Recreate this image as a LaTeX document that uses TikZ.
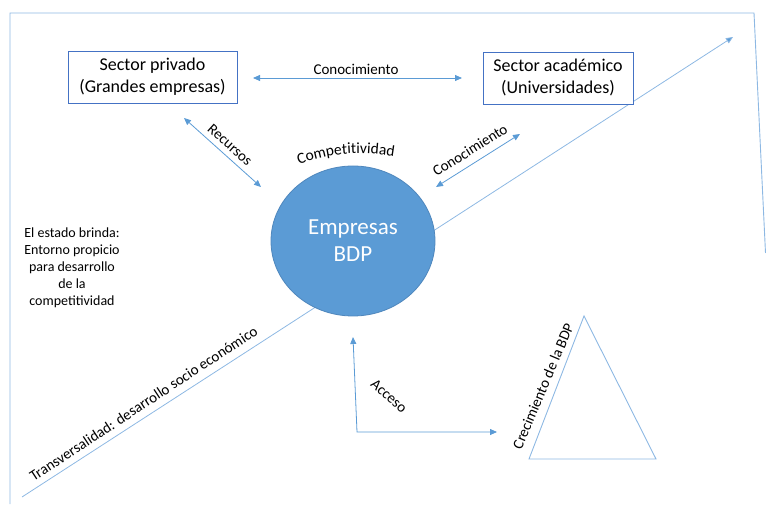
\documentclass[tikz,border=0pt]{standalone}
\usepackage{fontspec}
\setmainfont{Carlito}
\usetikzlibrary{arrows.meta,shapes.geometric,decorations.text}
\definecolor{lineblue}{HTML}{5B9BD5}
\definecolor{lightblue}{HTML}{8DB8E3}
\definecolor{boxblue}{HTML}{4472C4}
\definecolor{bdpfill}{HTML}{5B9BD5}
\definecolor{bdpedge}{HTML}{4F87BD}
\tikzset{
  arr/.style={draw=lineblue, line width=0.8pt, arrows={Triangle[length=7pt,width=6pt]-Triangle[length=7pt,width=6pt]}},
  arrone/.style={draw=lightblue, line width=0.8pt, -{Triangle[length=7pt,width=6pt,fill=lineblue]}},
  thin line/.style={draw=lightblue, line width=0.9pt},
  box/.style={draw=boxblue, line width=0.8pt, fill=white, align=center, inner sep=0pt,
    font=\fontsize{18}{22}\selectfont},
  lbl/.style={font=\fontsize{15}{18}\selectfont, inner sep=0pt},
}
\begin{document}
\begin{tikzpicture}[x=1pt,y=1pt]
\useasboundingbox (0,0) rectangle (766,504);
% frame
\coordinate (f1) at (10,0);
\coordinate (f2) at (10,491);
\coordinate (f3) at (754,491);
\coordinate (f4) at (765.5,251);
\draw[thin line] (f1) -- (f2) -- (f3) -- (f4);
% transversal line
\coordinate (t1) at (22,7);
\coordinate (t2) at (733,467);
\draw[arrone] (t1) -- (t2);
\node[lbl, rotate=33.3] (trans) at (143.5,100.5) {Transversalidad: desarrollo socio económico};
% boxes
\node[box, minimum width=169pt, minimum height=52pt] (priv) at (152.5,427) {Sector privado\\(Grandes empresas)};
\node[box, minimum width=150pt, minimum height=52pt] (acad) at (558,426) {Sector académico\\(Universidades)};
% circle
\node[ellipse, fill=bdpfill, draw=bdpedge, line width=0.8pt, minimum width=164pt, minimum height=150pt,
  inner sep=0pt, text=white, align=center, font=\fontsize{23}{27}\selectfont] (bdp) at (353,263) {Empresas\\BDP};
% top knowledge arrow
\coordinate (k1) at (253,426);
\coordinate (k2) at (462,426);
\draw[arr] (k1) -- (k2);
\node[lbl] (kl) at (356,435) {Conocimiento};
% recursos
\coordinate (r1) at (184,386);
\coordinate (r2) at (261,317);
\draw[arr] (r1) -- (r2);
\node[lbl, rotate=-42] (rl) at (230,359) {Recursos};
% diagonal knowledge
\coordinate (d1) at (436,317);
\coordinate (d2) at (520,370);
\draw[arr] (d1) -- (d2);
\node[lbl, rotate=32] (dl) at (470,354) {Conocimiento};
% competitividad arc
\coordinate (c1) at (297,339);
\coordinate (c2) at (396,347);
\path[decorate, decoration={text along path, text align=center,
  text={|\fontsize{15.5}{18}\selectfont|Competitividad}}] (c1) to[bend left=14] (c2);
% acceso
\coordinate (a0) at (357,72);
\coordinate (a1) at (353,167);
\coordinate (a2) at (497,72);
\draw[arr] (a1) -- (a0) -- (a2);
\node[lbl, rotate=-42] (al) at (389,108) {Acceso};
% triangle
\coordinate (p1) at (584,188);
\coordinate (p2) at (529,45);
\coordinate (p3) at (656,45);
\draw[thin line] (p1) -- (p2) -- (p3) -- cycle;
\node[lbl, rotate=67] (cl) at (543,118) {Crecimiento de la BDP};
% left text
\node[align=center, inner sep=0pt, font=\fontsize{14}{17}\selectfont] (estado) at (72,236)
  {El estado brinda:\\Entorno propicio\\para desarrollo\\de la\\competitividad};
\end{tikzpicture}
\end{document}
